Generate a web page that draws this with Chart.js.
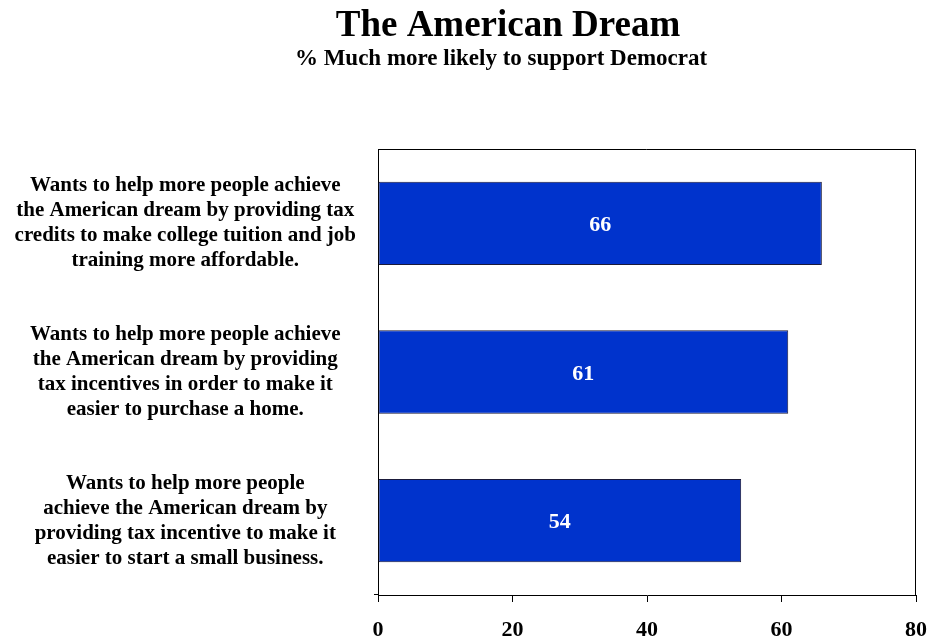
<!DOCTYPE html>
<html>
<head>
<meta charset="utf-8">
<title>The American Dream</title>
<script src="https://cdn.jsdelivr.net/npm/chart.js@4"></script>
<style>
  html, body { margin: 0; padding: 0; background: #fff; }
  #wrap { width: 930px; height: 639px; position: relative; }
</style>
</head>
<body>
<div id="wrap"><canvas id="barChart"></canvas></div>
<script>
// Statements and share "much more likely to support Democrat"
const statements = [
    ['Wants to help more people achieve', 'the American dream by providing tax', 'credits to make college tuition and job', 'training more affordable.'],
    ['Wants to help more people achieve', 'the American dream by providing', 'tax incentives in order to make it', 'easier to purchase a home.'],
    ['Wants to help more people', 'achieve the American dream by', 'providing tax incentive to make it', 'easier to start a small business.']
];
const muchMoreLikely = [66, 61, 54];
const xTicks = [0, 20, 40, 60, 80];
const chartTitle = 'The American Dream';
const chartSubtitle = '% Much more likely to support Democrat';

const serif = '"Liberation Serif", "Times New Roman", serif';

// Heading above the plot
const heading = {
    id: 'heading',
    afterDraw(chart) {
        const { ctx } = chart;
        ctx.save();
        ctx.fillStyle = '#000';
        ctx.textAlign = 'center';
        ctx.textBaseline = 'alphabetic';
        ctx.font = 'bold 37px ' + serif;
        ctx.fillText(chartTitle, 508, 36);
        ctx.font = 'bold 23px ' + serif;
        ctx.fillText(chartSubtitle, 501, 65);
        ctx.restore();
    }
};

// Box around the plot area (axes draw left and bottom, this adds top and right)
const frame = {
    id: 'frame',
    afterDatasetsDraw(chart) {
        const { ctx, chartArea: a } = chart;
        ctx.save();
        ctx.strokeStyle = '#000';
        ctx.lineWidth = 1;
        ctx.beginPath();
        ctx.moveTo(a.left, a.top + 0.5);
        ctx.lineTo(a.right - 0.5, a.top + 0.5);
        ctx.lineTo(a.right - 0.5, a.bottom);
        // short tick left of the bottom-left corner
        ctx.moveTo(a.left - 4, a.bottom - 0.5);
        ctx.lineTo(a.left, a.bottom - 0.5);
        ctx.stroke();
        ctx.restore();
    }
};

// Value written in the middle of each bar
const barValues = {
    id: 'barValues',
    afterDatasetsDraw(chart) {
        const { ctx } = chart;
        const meta = chart.getDatasetMeta(0);
        ctx.save();
        ctx.fillStyle = '#fff';
        ctx.font = 'bold 22px ' + serif;
        ctx.textAlign = 'center';
        ctx.textBaseline = 'middle';
        meta.data.forEach((bar, i) => {
            const x = (bar.base + bar.x) / 2;
            ctx.fillText(chart.data.datasets[0].data[i], x, bar.y + 2);
        });
        ctx.restore();
    }
};

function createBarChart() {
    const ctx = document.getElementById('barChart').getContext('2d');

    new Chart(ctx, {
        type: 'bar',
        data: {
            labels: statements,
            datasets: [{
                data: muchMoreLikely,
                backgroundColor: '#0033cc',
                borderColor: '#1a1a3a',
                borderWidth: 1,
                borderSkipped: false,
                categoryPercentage: 1,
                barPercentage: 0.56
            }]
        },
        options: {
            indexAxis: 'y',
            responsive: true,
            maintainAspectRatio: false,
            animation: false,
            layout: { padding: { left: 0, right: 14, top: 149, bottom: 0 } },
            scales: {
                x: {
                    min: 0,
                    max: 80,
                    afterBuildTicks(scale) {
                        scale.ticks = xTicks.map(v => ({ value: v }));
                    },
                    afterFit(scale) {
                        scale.height = 44;
                        scale.paddingLeft = 0;
                        scale.paddingRight = 0;
                    },
                    grid: {
                        drawOnChartArea: false,
                        drawTicks: true,
                        tickLength: 7,
                        color: '#000'
                    },
                    border: { display: true, color: '#000', width: 1 },
                    ticks: {
                        color: '#000',
                        padding: 15,
                        maxRotation: 0,
                        font: { family: serif, size: 22, weight: 'bold' }
                    }
                },
                y: {
                    afterFit(scale) {
                        scale.width = 378;
                        scale.paddingTop = 0;
                        scale.paddingBottom = 0;
                    },
                    grid: { display: false },
                    border: { display: true, color: '#000', width: 1 },
                    ticks: {
                        color: '#000',
                        crossAlign: 'center',
                        padding: 14,
                        font: { family: serif, size: 21, weight: 'bold', lineHeight: 1.19 }
                    }
                }
            },
            plugins: {
                legend: { display: false },
                tooltip: { enabled: false },
                title: { display: false }
            }
        },
        plugins: [heading, frame, barValues]
    });
}

createBarChart();
</script>
</body>
</html>
